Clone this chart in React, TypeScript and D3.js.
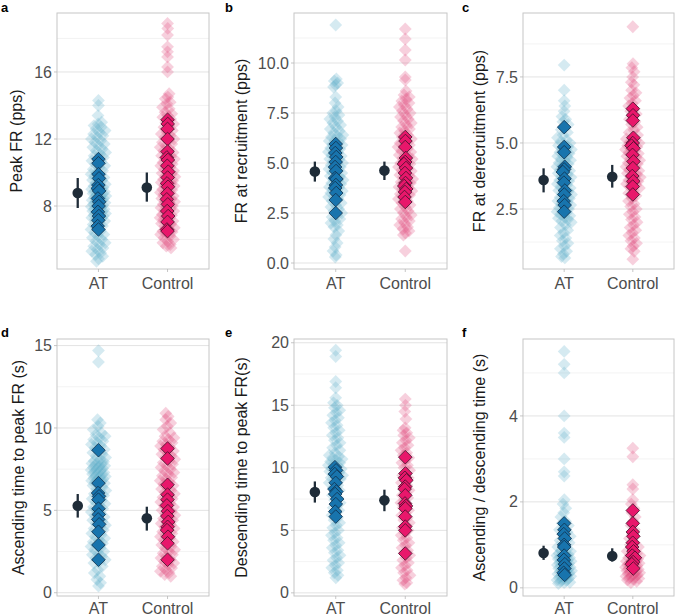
import React from 'react';
import * as d3 from 'd3';

const groups = ['AT', 'Control'];

// a: peak firing rate (pps)
const peakAtAll = [14.3, 14.0, 13.4, 13.0, 12.9, 12.8, 12.7, 12.6, 12.5, 12.4, 12.3, 12.2, 12.1, 12.0, 11.9, 11.8, 11.7, 11.6, 11.5, 11.4, 11.3, 11.2, 11.1, 11.0, 10.9, 10.8, 10.7, 10.6, 10.5, 10.4, 10.3, 10.2, 10.1, 10.0, 9.9, 9.85, 9.8, 9.7, 9.6, 9.55, 9.5, 9.4, 9.3, 9.25, 9.2, 9.1, 9.05, 9.0, 8.95, 8.9, 8.85, 8.8, 8.75, 8.7, 8.65, 8.6, 8.55, 8.5, 8.45, 8.4, 8.35, 8.3, 8.25, 8.2, 8.15, 8.1, 8.05, 8.0, 7.95, 7.9, 7.85, 7.8, 7.75, 7.7, 7.65, 7.6, 7.55, 7.5, 7.45, 7.4, 7.35, 7.3, 7.25, 7.2, 7.1, 7.0, 6.9, 6.8, 6.7, 6.6, 6.5, 6.4, 6.3, 6.2, 6.1, 6.0, 5.9, 5.8, 5.7, 5.6, 5.5, 5.4, 5.3, 5.2, 5.1, 5.0, 4.85, 4.7];
const peakAtSel = [10.8, 10.55, 9.9, 9.65, 9.25, 9.05, 8.9, 8.45, 8.25, 8.0, 7.65, 7.4, 7.15, 6.8, 6.6];
const peakCtlAll = [18.9, 18.6, 18.2, 17.5, 17.2, 16.9, 16.3, 16.0, 14.7, 14.5, 14.4, 14.2, 14.1, 13.9, 13.8, 13.6, 13.5, 13.4, 13.3, 13.2, 13.0, 12.9, 12.8, 12.7, 12.5, 12.4, 12.3, 12.2, 12.1, 12.0, 11.9, 11.8, 11.7, 11.6, 11.5, 11.4, 11.3, 11.2, 11.1, 11.0, 10.95, 10.9, 10.8, 10.7, 10.6, 10.5, 10.45, 10.4, 10.3, 10.2, 10.1, 10.0, 9.95, 9.9, 9.8, 9.75, 9.7, 9.6, 9.5, 9.45, 9.4, 9.3, 9.25, 9.2, 9.1, 9.0, 8.95, 8.9, 8.8, 8.75, 8.7, 8.6, 8.5, 8.45, 8.4, 8.3, 8.25, 8.2, 8.1, 8.0, 7.95, 7.9, 7.8, 7.75, 7.7, 7.6, 7.5, 7.45, 7.4, 7.3, 7.25, 7.2, 7.1, 7.0, 6.95, 6.9, 6.8, 6.7, 6.6, 6.5, 6.45, 6.4, 6.3, 6.2, 6.1, 6.0, 5.9, 5.8, 5.7, 5.6, 5.5];
const peakCtlSel = [13.15, 12.9, 12.6, 12.0, 11.25, 10.9, 10.75, 10.4, 10.05, 9.7, 9.35, 9.15, 8.75, 8.4, 8.1, 7.7, 7.4, 7.05, 6.6, 6.5];
const peakMean = [8.78, 9.1];
const peakLow = [7.88, 8.26];
const peakHigh = [9.67, 10.0];

// b: firing rate at recruitment (pps)
const recAtAll = [11.9, 9.2, 9.1, 9.0, 8.9, 8.8, 8.3, 8.0, 7.8, 7.6, 7.5, 7.4, 7.3, 7.2, 7.1, 7.0, 6.9, 6.8, 6.7, 6.6, 6.5, 6.4, 6.35, 6.3, 6.2, 6.15, 6.1, 6.0, 5.95, 5.9, 5.8, 5.75, 5.7, 5.6, 5.55, 5.5, 5.4, 5.35, 5.3, 5.2, 5.15, 5.1, 5.0, 4.95, 4.9, 4.8, 4.75, 4.7, 4.6, 4.55, 4.5, 4.4, 4.35, 4.3, 4.2, 4.15, 4.1, 4.0, 3.95, 3.9, 3.8, 3.75, 3.7, 3.6, 3.55, 3.5, 3.4, 3.35, 3.3, 3.2, 3.1, 3.0, 2.9, 2.8, 2.7, 2.6, 2.5, 2.4, 2.3, 2.2, 2.1, 2.0, 1.9, 1.8, 1.6, 1.4, 1.2, 1.0, 0.8, 0.6, 0.4, 0.3];
const recAtSel = [5.95, 5.75, 5.5, 5.3, 5.05, 4.8, 4.6, 4.25, 4.2, 3.9, 3.75, 3.5, 3.15, 2.5];
const recCtlAll = [11.7, 11.2, 10.65, 10.15, 9.3, 9.15, 8.6, 8.4, 8.3, 8.2, 8.1, 8.0, 7.9, 7.8, 7.7, 7.6, 7.5, 7.4, 7.3, 7.2, 7.1, 7.0, 6.9, 6.8, 6.7, 6.6, 6.5, 6.4, 6.3, 6.2, 6.1, 6.0, 5.9, 5.85, 5.8, 5.7, 5.6, 5.55, 5.5, 5.4, 5.3, 5.25, 5.2, 5.1, 5.0, 4.95, 4.9, 4.8, 4.7, 4.65, 4.6, 4.5, 4.4, 4.35, 4.3, 4.2, 4.1, 4.05, 4.0, 3.9, 3.8, 3.75, 3.7, 3.6, 3.5, 3.45, 3.4, 3.3, 3.2, 3.1, 3.0, 2.9, 2.8, 2.7, 2.6, 2.5, 2.4, 2.3, 2.2, 2.1, 2.0, 1.9, 1.8, 1.7, 1.6, 1.5, 1.4, 0.6];
const recCtlSel = [6.3, 6.1, 5.8, 5.25, 5.05, 4.95, 4.75, 4.5, 4.25, 4.0, 3.85, 3.7, 3.55, 3.3, 3.05];
const recMean = [4.57, 4.62];
const recLow = [4.07, 4.15];
const recHigh = [5.07, 5.07];

// c: firing rate at derecruitment (pps)
const derAtAll = [7.95, 7.0, 6.6, 6.4, 6.2, 6.0, 5.9, 5.8, 5.7, 5.6, 5.5, 5.4, 5.3, 5.2, 5.1, 5.05, 5.0, 4.95, 4.9, 4.85, 4.8, 4.75, 4.7, 4.65, 4.6, 4.55, 4.5, 4.45, 4.4, 4.35, 4.3, 4.25, 4.2, 4.15, 4.1, 4.05, 4.0, 3.95, 3.9, 3.85, 3.8, 3.75, 3.7, 3.65, 3.6, 3.55, 3.5, 3.45, 3.4, 3.35, 3.3, 3.25, 3.2, 3.15, 3.1, 3.05, 3.0, 2.95, 2.9, 2.85, 2.8, 2.75, 2.7, 2.65, 2.6, 2.55, 2.5, 2.45, 2.4, 2.35, 2.3, 2.25, 2.2, 2.15, 2.1, 2.05, 2.0, 1.9, 1.8, 1.7, 1.6, 1.5, 1.4, 1.3, 1.2, 1.1, 1.0, 0.9, 0.8, 0.7, 0.65];
const derAtSel = [5.6, 4.85, 4.65, 4.1, 4.0, 3.9, 3.65, 3.5, 3.2, 3.05, 2.8, 2.65, 2.4];
const derCtlAll = [9.4, 8.0, 7.85, 7.7, 7.5, 7.3, 7.2, 7.0, 6.9, 6.8, 6.7, 6.6, 6.5, 6.4, 6.3, 6.2, 6.1, 6.0, 5.9, 5.8, 5.7, 5.6, 5.5, 5.4, 5.3, 5.2, 5.15, 5.1, 5.05, 5.0, 4.95, 4.9, 4.85, 4.8, 4.75, 4.7, 4.65, 4.6, 4.55, 4.5, 4.45, 4.4, 4.35, 4.3, 4.25, 4.2, 4.15, 4.1, 4.05, 4.0, 3.95, 3.9, 3.85, 3.8, 3.75, 3.7, 3.65, 3.6, 3.55, 3.5, 3.45, 3.4, 3.35, 3.3, 3.2, 3.1, 3.0, 2.9, 2.8, 2.7, 2.6, 2.5, 2.4, 2.3, 2.2, 2.1, 2.0, 1.9, 1.8, 1.7, 1.6, 1.5, 1.4, 1.3, 1.2, 1.1, 1.0, 0.9, 0.6];
const derCtlSel = [6.3, 6.05, 5.85, 5.2, 5.0, 4.9, 4.8, 4.55, 4.3, 4.05, 3.75, 3.55, 3.35, 3.05];
const derMean = [3.6, 3.72];
const derLow = [3.13, 3.31];
const derHigh = [4.04, 4.17];

// d: ascending time to peak FR (s)
const ascAtAll = [14.7, 14.0, 10.5, 10.3, 10.1, 9.9, 9.7, 9.6, 9.5, 9.4, 9.3, 9.2, 9.1, 9.0, 8.9, 8.8, 8.7, 8.6, 8.5, 8.4, 8.3, 8.2, 8.1, 8.0, 7.95, 7.9, 7.85, 7.8, 7.75, 7.7, 7.65, 7.6, 7.55, 7.5, 7.45, 7.4, 7.35, 7.3, 7.25, 7.2, 7.15, 7.1, 7.05, 7.0, 6.95, 6.9, 6.85, 6.8, 6.75, 6.7, 6.65, 6.6, 6.5, 6.4, 6.3, 6.2, 6.1, 6.0, 5.9, 5.8, 5.7, 5.6, 5.5, 5.4, 5.3, 5.2, 5.1, 5.0, 4.9, 4.8, 4.7, 4.6, 4.5, 4.4, 4.3, 4.2, 4.1, 4.0, 3.9, 3.8, 3.7, 3.6, 3.5, 3.4, 3.3, 3.2, 3.1, 3.0, 2.9, 2.8, 2.7, 2.6, 2.5, 2.4, 2.3, 2.2, 2.1, 2.0, 1.9, 1.8, 1.6, 1.4, 1.2, 1.0, 0.8, 0.6, 0.4];
const ascAtSel = [8.65, 6.65, 6.05, 5.85, 5.65, 5.1, 4.75, 4.45, 4.15, 3.7, 2.9, 2.0];
const ascCtlAll = [10.9, 10.7, 10.5, 10.3, 10.1, 9.9, 9.7, 9.5, 9.4, 9.3, 9.2, 9.1, 9.0, 8.9, 8.8, 8.7, 8.6, 8.5, 8.4, 8.3, 8.2, 8.1, 8.0, 7.9, 7.8, 7.7, 7.6, 7.5, 7.4, 7.3, 7.2, 7.1, 7.0, 6.9, 6.8, 6.7, 6.6, 6.5, 6.4, 6.3, 6.2, 6.1, 6.0, 5.9, 5.8, 5.7, 5.6, 5.5, 5.4, 5.3, 5.2, 5.1, 5.0, 4.9, 4.8, 4.7, 4.6, 4.5, 4.4, 4.3, 4.2, 4.1, 4.0, 3.9, 3.8, 3.7, 3.6, 3.5, 3.4, 3.3, 3.2, 3.1, 3.0, 2.9, 2.8, 2.7, 2.6, 2.5, 2.4, 2.3, 2.2, 2.1, 2.0, 1.9, 1.8, 1.7, 1.6, 1.5, 1.4, 1.3, 1.2, 1.1, 1.0];
const ascCtlSel = [8.75, 8.15, 6.55, 5.95, 5.65, 5.3, 4.95, 4.65, 4.3, 4.0, 3.8, 3.4, 3.0, 2.0];
const ascMean = [5.28, 4.52];
const ascLow = [4.56, 3.77];
const ascHigh = [5.99, 5.22];

// e: descending time to peak FR (s)
const descAtAll = [19.4, 18.9, 16.9, 16.4, 15.6, 15.2, 15.0, 14.8, 14.6, 14.4, 14.2, 14.0, 13.8, 13.6, 13.4, 13.2, 13.0, 12.8, 12.6, 12.4, 12.2, 12.0, 11.8, 11.6, 11.4, 11.2, 11.0, 10.9, 10.8, 10.7, 10.6, 10.5, 10.4, 10.3, 10.2, 10.1, 10.0, 9.9, 9.8, 9.7, 9.6, 9.5, 9.4, 9.3, 9.2, 9.1, 9.0, 8.8, 8.6, 8.4, 8.2, 8.0, 7.8, 7.6, 7.4, 7.2, 7.0, 6.8, 6.6, 6.4, 6.2, 6.0, 5.8, 5.6, 5.4, 5.2, 5.0, 4.8, 4.6, 4.4, 4.2, 4.0, 3.8, 3.6, 3.4, 3.2, 3.0, 2.8, 2.6, 2.4, 2.2, 2.0, 1.8, 1.6, 1.4, 1.2];
const descAtSel = [10.05, 9.8, 9.5, 9.3, 8.8, 8.3, 8.1, 7.9, 7.5, 7.1, 6.5, 6.1];
const descCtlAll = [15.5, 15.0, 14.5, 13.9, 13.2, 13.0, 12.8, 12.6, 12.4, 12.2, 12.0, 11.8, 11.6, 11.4, 11.2, 11.0, 10.8, 10.6, 10.4, 10.2, 10.0, 9.8, 9.6, 9.4, 9.2, 9.0, 8.8, 8.6, 8.4, 8.2, 8.0, 7.8, 7.6, 7.4, 7.2, 7.0, 6.8, 6.6, 6.4, 6.2, 6.0, 5.8, 5.6, 5.4, 5.2, 5.0, 4.8, 4.6, 4.4, 4.2, 4.0, 3.8, 3.6, 3.4, 3.2, 3.0, 2.8, 2.6, 2.4, 2.2, 2.0, 1.8, 1.6, 1.4, 1.2, 1.0, 0.8, 0.7];
const descCtlSel = [10.85, 9.55, 9.2, 9.0, 8.5, 8.3, 7.8, 7.15, 6.95, 6.75, 6.1, 5.3, 5.0, 3.15];
const descMean = [8.07, 7.4];
const descLow = [7.22, 6.53];
const descHigh = [8.91, 8.25];

// f: ascending / descending time ratio
const ratioAtAll = [5.5, 5.2, 5.0, 4.0, 3.6, 3.5, 3.0, 2.7, 2.6, 2.05, 1.95, 1.85, 1.75, 1.65, 1.55, 1.5, 1.45, 1.4, 1.35, 1.3, 1.25, 1.2, 1.15, 1.1, 1.05, 1.0, 0.95, 0.9, 0.87, 0.85, 0.82, 0.8, 0.78, 0.77, 0.75, 0.73, 0.72, 0.7, 0.68, 0.67, 0.65, 0.63, 0.62, 0.6, 0.58, 0.57, 0.55, 0.53, 0.52, 0.5, 0.48, 0.47, 0.45, 0.43, 0.42, 0.4, 0.38, 0.37, 0.35, 0.33, 0.32, 0.3, 0.28, 0.27, 0.25, 0.23, 0.22, 0.2, 0.18, 0.17, 0.15, 0.13, 0.12, 0.1];
const ratioAtSel = [1.5, 1.35, 1.25, 1.15, 1.0, 0.95, 0.75, 0.65, 0.55, 0.45, 0.35, 0.3];
const ratioCtlAll = [3.25, 3.05, 2.4, 2.3, 2.05, 1.95, 1.85, 1.75, 1.65, 1.55, 1.45, 1.35, 1.25, 1.15, 1.05, 1.0, 0.95, 0.9, 0.85, 0.8, 0.77, 0.75, 0.72, 0.7, 0.67, 0.65, 0.62, 0.6, 0.58, 0.57, 0.55, 0.53, 0.52, 0.5, 0.48, 0.47, 0.45, 0.43, 0.42, 0.4, 0.38, 0.37, 0.35, 0.33, 0.32, 0.3, 0.28, 0.27, 0.25, 0.23, 0.22, 0.2, 0.18, 0.15, 0.12];
const ratioCtlSel = [1.8, 1.5, 1.3, 1.2, 1.05, 0.95, 0.85, 0.75, 0.7, 0.6, 0.55, 0.45];
const ratioMean = [0.81, 0.74];
const ratioLow = [0.65, 0.61];
const ratioHigh = [0.98, 0.92];

const lightFill = ['#5eaec9', '#e04a7c'];
const darkFill = ['#1874ad', '#e8176b'];
const darkStroke = ['#0f2f4a', '#3f1028'];
const meanColor = '#1f2c38';

const panels = [
  { tag: 'a', title: 'Peak FR (pps)', domain: [4.24, 19.52], ticks: [8, 12, 16], minor: [6, 10, 14, 18], digits: 0,
    all: [peakAtAll, peakCtlAll], sel: [peakAtSel, peakCtlSel], mean: peakMean, lo: peakLow, hi: peakHigh },
  { tag: 'b', title: 'FR at recruitment (pps)', domain: [-0.3, 12.5], ticks: [0, 2.5, 5, 7.5, 10], minor: [1.25, 3.75, 6.25, 8.75, 11.25], digits: 1,
    all: [recAtAll, recCtlAll], sel: [recAtSel, recCtlSel], mean: recMean, lo: recLow, hi: recHigh },
  { tag: 'c', title: 'FR at derecruitment (pps)', domain: [0.23, 9.92], ticks: [2.5, 5, 7.5], minor: [1.25, 3.75, 6.25, 8.75], digits: 1,
    all: [derAtAll, derCtlAll], sel: [derAtSel, derCtlSel], mean: derMean, lo: derLow, hi: derHigh },
  { tag: 'd', title: 'Ascending time to peak FR (s)', domain: [-0.2, 15.4], ticks: [0, 5, 10, 15], minor: [2.5, 7.5, 12.5], digits: 0,
    all: [ascAtAll, ascCtlAll], sel: [ascAtSel, ascCtlSel], mean: ascMean, lo: ascLow, hi: ascHigh },
  { tag: 'e', title: 'Descending time to peak FR(s)', domain: [-0.25, 20.3], ticks: [0, 5, 10, 15, 20], minor: [2.5, 7.5, 12.5, 17.5], digits: 0,
    all: [descAtAll, descCtlAll], sel: [descAtSel, descCtlSel], mean: descMean, lo: descLow, hi: descHigh },
  { tag: 'f', title: 'Ascending / descending time (s)', domain: [-0.19, 5.79], ticks: [0, 2, 4], minor: [1, 3, 5], digits: 0,
    all: [ratioAtAll, ratioCtlAll], sel: [ratioAtSel, ratioCtlSel], mean: ratioMean, lo: ratioLow, hi: ratioHigh },
];

const colLeft = [57, 294, 523];
const colRight = [209, 447, 674];
const rowTop = [13, 339];
const rowBottom = [269, 596];
const titleX = [16.5, 241, 479, 18.5, 241, 479];
const tagX = [1, 225, 462];
const tagY = [11.5, 337];
const xLabelGap = [20, 18];

const FONT = '"Liberation Sans", Arial, Helvetica, sans-serif';

const diamond = (s: number) => `M0,${-s}L${s},0L0,${s}L${-s},0Z`;

// push points sideways depending on how crowded their pixel neighbourhood is
function spread(ys: number[], maxW: number, band: number, step: number) {
  return ys.map((y, i) => {
    const n = ys.filter(v => Math.abs(v - y) < band).length;
    const w = Math.min(maxW, Math.max(0, n - 2) * step);
    const t = ((i * 0.6180339887) % 1) * 2 - 1;
    return w * t;
  });
}

function Panel({ p, idx }: { p: typeof panels[0]; idx: number }) {
  const col = idx % 3;
  const row = Math.floor(idx / 3);
  const left = colLeft[col];
  const right = colRight[col];
  const top = rowTop[row];
  const bottom = rowBottom[row];

  const y = d3.scaleLinear().domain(p.domain).range([bottom, top]);
  const unit = (right - left) / 2.2;
  const x = d3.scalePoint().domain(groups).range([left + 0.6 * unit, right - 0.6 * unit]);
  const fmt = d3.format(p.digits ? '.1f' : 'd');

  return (
    <g>
      {p.minor.map(v => (
        <line key={'m' + v} x1={left} x2={right} y1={y(v)} y2={y(v)} stroke="#f0f0f0" strokeWidth={0.8} />
      ))}
      {p.ticks.map(v => (
        <line key={'g' + v} x1={left} x2={right} y1={y(v)} y2={y(v)} stroke="#e3e3e3" strokeWidth={1} />
      ))}

      {groups.map((g, gi) => {
        const ys = p.all[gi].map(v => y(v));
        const dx = spread(ys, 7.5, 10, 0.9);
        return (
          <g key={'all' + g}>
            {ys.map((yy, i) => (
              <path key={i} d={diamond(6.4)} transform={`translate(${x(g)! + dx[i]},${yy})`}
                fill={lightFill[gi]} fillOpacity={0.26} />
            ))}
          </g>
        );
      })}

      {groups.map((g, gi) => {
        const ys = p.sel[gi].map(v => y(v));
        const dx = spread(ys, 2.5, 8, 0.8);
        return (
          <g key={'sel' + g}>
            {ys.map((yy, i) => (
              <path key={i} d={diamond(6.8)} transform={`translate(${x(g)! + dx[i]},${yy})`}
                fill={darkFill[gi]} stroke={darkStroke[gi]} strokeWidth={0.8} />
            ))}
          </g>
        );
      })}

      {groups.map((g, gi) => {
        const cx = x(g)! - 0.3 * unit;
        return (
          <g key={'mean' + g}>
            <line x1={cx} x2={cx} y1={y(p.lo[gi])} y2={y(p.hi[gi])} stroke={meanColor} strokeWidth={2.3} />
            <circle cx={cx} cy={y(p.mean[gi])} r={5.3} fill={meanColor} />
          </g>
        );
      })}

      <rect x={left} y={top} width={right - left} height={bottom - top} fill="none" stroke="#c6c6c6" strokeWidth={1} />

      {p.ticks.map(v => (
        <g key={'t' + v}>
          <line x1={left - 3} x2={left} y1={y(v)} y2={y(v)} stroke="#b8b8b8" strokeWidth={0.8} />
          <text x={left - 5} y={y(v)} dy="0.35em" textAnchor="end" fontSize={16} fill="#4d4d4d" fontFamily={FONT}>
            {fmt(v)}
          </text>
        </g>
      ))}
      {groups.map(g => (
        <g key={'x' + g}>
          <line x1={x(g)} x2={x(g)} y1={bottom} y2={bottom + 3} stroke="#b8b8b8" strokeWidth={0.8} />
          <text x={x(g)} y={bottom + xLabelGap[row]} textAnchor="middle" fontSize={16} fill="#4d4d4d" fontFamily={FONT}>
            {g}
          </text>
        </g>
      ))}

      <text transform={`translate(${titleX[idx]},${(top + bottom) / 2}) rotate(-90)`} dy="0.35em"
        textAnchor="middle" fontSize={16} fill="#1a1a1a" fontFamily={FONT}>
        {p.title}
      </text>
      <text x={tagX[col]} y={tagY[row]} fontSize={13} fontWeight="bold" fill="#000" fontFamily={FONT}>
        {p.tag}
      </text>
    </g>
  );
}

export default function App() {
  return (
    <svg width={676} height={616} style={{ position: 'absolute', left: 0, top: 0, background: '#fff' }}>
      <rect width={676} height={616} fill="#fff" />
      {panels.map((p, i) => (
        <Panel key={p.tag} p={p} idx={i} />
      ))}
    </svg>
  );
}
